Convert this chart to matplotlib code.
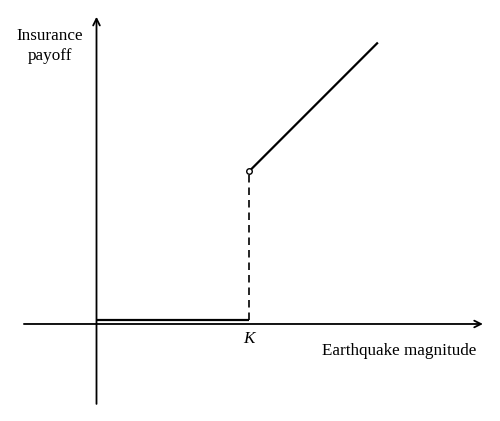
import matplotlib.pyplot as plt

# payoff of the earthquake insurance (strike K)
strike = 5.0
flat_x = [0.0, 5.0]
flat_y = [0.13, 0.13]
jump_x = [5.0, 9.2]
jump_y = [5.0, 9.2]

x_label = "Earthquake magnitude"
y_label = "Insurance\npayoff"

plt.rcParams['font.family'] = ['Liberation Serif', 'DejaVu Serif']

fig = plt.figure(figsize=(5.0, 4.21), dpi=100)
ax = fig.add_axes([0, 0, 1, 1])
ax.set_xlim(-3.164, 13.23)
ax.set_ylim(-3.18, 10.62)
ax.axis('off')

# axes with arrows
ax.annotate('', xy=(12.67, 0), xytext=(-2.38, 0),
            arrowprops=dict(arrowstyle='->', lw=1.3, color='black',
                            shrinkA=0, shrinkB=0, mutation_scale=12))
ax.annotate('', xy=(0, 10.07), xytext=(0, -2.62),
            arrowprops=dict(arrowstyle='->', lw=1.3, color='black',
                            shrinkA=0, shrinkB=0, mutation_scale=12))

ax.plot(flat_x, flat_y, color='black', lw=1.6, solid_capstyle='butt')
ax.plot([strike, strike], [flat_y[1], jump_y[0]], color='black', lw=1.2,
        ls=(0, (4.5, 3)))
ax.plot(jump_x, jump_y, color='black', lw=1.6)
ax.plot([jump_x[0]], [jump_y[0]], marker='o', ms=4, mfc='white',
        mec='black', mew=1.0)

ax.text(strike, -0.5, 'K', style='italic', fontsize=12.3, ha='center', va='center')
ax.text(9.92, -0.88, x_label, fontsize=12.3, ha='center', va='center')
ax.text(-1.54, 9.11, y_label, fontsize=12.3, ha='center', va='center',
        linespacing=1.3)

fig.savefig('out.png', dpi=100)
